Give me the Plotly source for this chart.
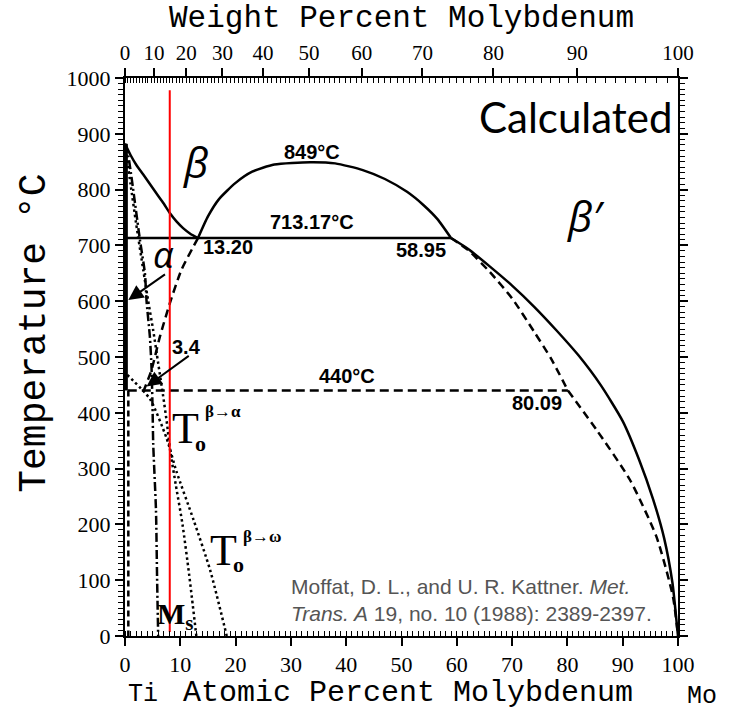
import numpy as np
import plotly.graph_objects as go

# Ti-Mo phase diagram (calculated), composition in at.% Mo, temperature in °C
M_MO, M_TI = 95.95, 47.867


def wt_to_at(w):
    """Convert wt.% Mo to at.% Mo."""
    w = np.asarray(w, dtype=float)
    n_mo = w / M_MO
    n_ti = (100.0 - w) / M_TI
    return 100.0 * n_mo / (n_mo + n_ti)


# stable phase boundaries
beta_transus_x = [0, 1, 2, 3.3, 4.5, 5.7, 7, 8.1, 9.3, 10.5, 11.8, 13.20]
beta_transus_t = [882, 862, 845, 827, 810, 793, 775, 758, 743, 731, 721, 713.17]

gap_x = [13.20, 15, 17, 20, 23, 27, 33.5, 38, 43, 47, 51, 54, 56.5, 58.95]
gap_t = [713.17, 752, 783, 812, 832, 845, 849, 847, 835, 819, 796, 772, 747, 713.17]

solvus_x = [58.95, 62, 66, 70, 74, 78, 82, 86, 90, 93, 95.5, 97.5, 99, 99.7, 100]
solvus_t = [713.17, 694, 662, 628, 590, 548, 503, 450, 385, 315, 245, 175, 95, 30, 0]

monotectoid_x = [0, 58.95]
monotectoid_t = [713.17, 713.17]

alpha_x = [0.2, 0.2]
alpha_t = [882, 440]

# metastable boundaries
meta_upper_x = [58.95, 62, 66, 70, 74, 77, 80.09]
meta_upper_t = [713.17, 692, 652, 605, 545, 498, 440]

meta_lower_x = [80.09, 85.3, 91.3, 96.1, 99.1, 100]
meta_lower_t = [440, 369, 280, 178, 70, 0]

eutectoid_x = [0.5, 80.09]
eutectoid_t = [440, 440]

meta_transus_x = [13.20, 10.2, 8.1, 6.3, 4.8, 3.4]
meta_transus_t = [713.17, 656, 596, 536, 477, 440]

meta_alpha_x = [0.6, 0.6]
meta_alpha_t = [440, 0]

# martensite start and T0 curves
ms_x = [0, 0.6, 2.7, 3.6, 3.9, 4.5, 4.8, 5.0, 5.1, 5.6, 5.8, 6.0]
ms_t = [882, 860, 710, 650, 600, 536, 480, 400, 345, 226, 106, 0]

t0_alpha_x = [0, 1.0, 2.0, 3.3, 4.2, 5.1, 6.0, 6.9, 7.6, 8.2, 9.2, 10.4, 11.6, 12.9]
t0_alpha_t = [882, 810, 740, 656, 600, 548, 489, 430, 380, 330, 270, 200, 110, 0]

t0_omega_x = [0.4, 4.5, 7.5, 9.3, 12.4, 15.4, 18.4]
t0_omega_t = [468, 425, 355, 295, 208, 118, 0]

# alloy of interest: Ti-15Mo (wt.%)
alloy_wt = 15
alloy_t = [978, 7]

# axis ticks
at_ticks = list(range(0, 101, 10))
wt_ticks = list(range(0, 101, 10))
t_ticks = list(range(0, 1001, 100))

SERIF = "Liberation Serif"
MONO = "Liberation Mono"
SANS = "Liberation Sans"

fig = go.Figure()


def add_line(x, y, dash="solid", width=2.5, color="black", shape="spline"):
    fig.add_trace(go.Scatter(
        x=x, y=y, mode="lines",
        line=dict(color=color, width=width, dash=dash, shape=shape, smoothing=0.6),
        hoverinfo="skip", showlegend=False))


add_line(beta_transus_x, beta_transus_t)
add_line(gap_x, gap_t)
add_line(solvus_x, solvus_t)
add_line(monotectoid_x, monotectoid_t, shape="linear")
add_line(alpha_x, alpha_t, width=3.5, shape="linear")

add_line(meta_upper_x, meta_upper_t, dash="8px,5px")
add_line(meta_lower_x, meta_lower_t, dash="8px,5px")
add_line(eutectoid_x, eutectoid_t, dash="9px,5px", shape="linear")
add_line(meta_transus_x, meta_transus_t, dash="8px,5px")
add_line(meta_alpha_x, meta_alpha_t, dash="6px,4px", shape="linear")

add_line(ms_x, ms_t, dash="9px,3px,2px,3px")
add_line(t0_alpha_x, t0_alpha_t, dash="2.5px,3px")
add_line(t0_omega_x, t0_omega_t, dash="2.5px,3px")

alloy_x = float(wt_to_at(alloy_wt))
add_line([alloy_x, alloy_x], alloy_t, color="#ff0000", width=2, shape="linear")

# invisible trace so the top/right axes are drawn
fig.add_trace(go.Scatter(x=[0, 100], y=[0, 1000], xaxis="x2", yaxis="y2",
                         mode="markers", marker=dict(opacity=0),
                         hoverinfo="skip", showlegend=False))

axis_common = dict(showline=True, linewidth=2, linecolor="black", mirror=False,
                   showgrid=False, zeroline=False, tickcolor="black",
                   tickwidth=1.5, ticklen=8, ticks="outside")

fig.update_layout(
    width=736, height=710,
    margin=dict(l=125, r=58, t=78, b=74),
    paper_bgcolor="white", plot_bgcolor="white",
    xaxis=dict(range=[0, 100], tickvals=at_ticks,
               tickfont=dict(family=SERIF, size=22, color="black"),
               minor=dict(ticks="inside", ticklen=5, tickwidth=1, tickcolor="black",
                          tickvals=list(range(0, 101))),
               **axis_common),
    xaxis2=dict(range=[0, 100], overlaying="x", side="top",
                tickvals=[float(v) for v in wt_to_at(wt_ticks)],
                ticktext=[str(v) for v in wt_ticks],
                tickfont=dict(family=SERIF, size=21, color="black"),
                minor=dict(ticks="inside", ticklen=5, tickwidth=1, tickcolor="black",
                           tickvals=[float(v) for v in wt_to_at(range(0, 101))]),
                **axis_common),
    yaxis=dict(range=[0, 1000], tickvals=t_ticks,
               tickfont=dict(family=SERIF, size=22, color="black"),
               minor=dict(ticks="outside", ticklen=5, tickwidth=1, tickcolor="black",
                          dtick=10),
               **axis_common),
    yaxis2=dict(range=[0, 1000], overlaying="y", side="right", tickvals=t_ticks,
                showticklabels=False,
                minor=dict(ticks="outside", ticklen=5, tickwidth=1, tickcolor="black",
                           dtick=10),
                **axis_common),
)


def note(text, x, y, size, family=SANS, color="black", xanchor="center",
         yanchor="middle", xref="x", yref="y", textangle=0, align="center"):
    fig.add_annotation(text=text, x=x, y=y, xref=xref, yref=yref, showarrow=False,
                       xanchor=xanchor, yanchor=yanchor, textangle=textangle,
                       align=align, font=dict(family=family, size=size, color=color))


# axis titles
note("Weight Percent Molybdenum", 0.50, 1.106, 31, family=MONO, xref="paper", yref="paper")
note("Atomic Percent Molybdenum", 0.512, -0.103, 30, family=MONO, xref="paper", yref="paper")
note("Ti", 0.032, -0.105, 25, family=MONO, xref="paper", yref="paper")
note("Mo", 1.044, -0.108, 25, family=MONO, xref="paper", yref="paper")
note("Temperature °C", -0.165, 0.543, 38, family=MONO, xref="paper", yref="paper",
     textangle=-90)

# phase labels
note("<i>β</i>", 12.8, 850, 42, family="Open Sans")
note("<i>β′</i>", 83.2, 753, 42, family="Open Sans")
note("<i>α</i>", 7.0, 683, 36, family="Open Sans")
note("Calculated", 99.2, 930, 42, family="Lato", xanchor="right")

# invariant values
bold = dict(family=SANS)
note("<b>849°C</b>", 33.8, 867, 20, **bold)
note("<b>713.17°C</b>", 33.8, 742, 20, **bold)
note("<b>13.20</b>", 18.6, 697, 20, **bold)
note("<b>58.95</b>", 53.5, 692, 20, **bold)
note("<b>440°C</b>", 40.1, 466, 20, **bold)
note("<b>80.09</b>", 74.5, 418, 20, **bold)
note("<b>3.4</b>", 11.2, 518, 20, **bold)

# T0 and Ms labels
note("T", 11.0, 372, 44, family=SERIF)
note("<b>o</b>", 13.6, 345, 22, family=SERIF)
note("<b>β→α</b>", 17.7, 403, 17, family=SERIF)
note("T", 17.9, 154, 44, family=SERIF)
note("<b>o</b>", 20.5, 128, 22, family=SERIF)
note("<b>β→ω</b>", 24.8, 178, 17, family=SERIF)
note("<b>M<sub>s</sub></b>", 9.2, 36, 30, family=SERIF)

# citation
note("Moffat, D. L., and U. R. Kattner. <i>Met.</i><br>"
     "<i>Trans. A</i> 19, no. 10 (1988): 2389-2397.",
     29.6, 64, 21, family=SANS, color="#555555", xanchor="left", align="left")

# arrows
for head, tail in [((0.6, 602), (7.5, 650)), ((3.9, 447), (11.8, 504))]:
    fig.add_annotation(x=head[0], y=head[1], ax=tail[0], ay=tail[1],
                       xref="x", yref="y", axref="x", ayref="y", text="",
                       showarrow=True, arrowhead=2, arrowsize=1.5, arrowwidth=2,
                       arrowcolor="black")

fig.write_html("out.html")
